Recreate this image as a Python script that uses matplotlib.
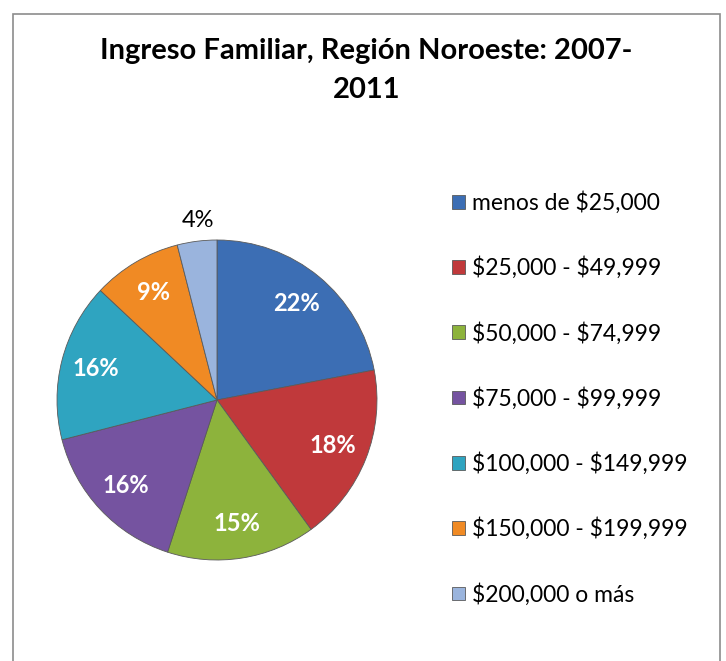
import matplotlib.pyplot as plt
from matplotlib.patches import Rectangle

# data
categorias = ['menos de $25,000', '$25,000 - $49,999', '$50,000 - $74,999',
              '$75,000 - $99,999', '$100,000 - $149,999', '$150,000 - $199,999',
              '$200,000 o más']
porcentajes = [22, 18, 15, 16, 16, 9, 4]
colores = ['#3C6EB4', '#C0393B', '#8DB33C', '#7553A0', '#2FA4C0', '#F08A24', '#9AB4DD']

plt.rcParams['font.family'] = ['Lato', 'DejaVu Sans']
plt.rcParams['text.parse_math'] = False  # keep the $ signs literal

fig = plt.figure(figsize=(7.26, 6.61), dpi=100)

# chart frame
fig.patches.append(Rectangle((13 / 726, -0.01), 707 / 726, 1 - 14 / 661 + 0.01,
                             transform=fig.transFigure, fill=False,
                             edgecolor='#8C8C8C', linewidth=1.2))

ax = fig.add_axes([41 / 726, 85 / 661, 352 / 726, 352 / 661])
wedges, textos, pcts = ax.pie(porcentajes, colors=colores, startangle=90,
                              counterclock=False, radius=1.0,
                              autopct='%d%%', pctdistance=0.78,
                              wedgeprops=dict(edgecolor='#5A5A5A', linewidth=0.6),
                              textprops=dict(color='white', fontsize=17, fontweight='bold'))
ax.set_xlim(-1.1, 1.1)
ax.set_ylim(-1.1, 1.1)

# small slice label sits outside, in black
pcts[-1].set_position((-0.12, 1.12))
pcts[-1].set_color('black')
pcts[-1].set_fontweight('normal')

fig.text(0.505, 0.942, 'Ingreso Familiar, Región Noroeste: 2007-\n2011',
         ha='center', va='top', fontsize=21, fontweight='bold', linespacing=1.62)

fig.legend(wedges, categorias, loc='upper left', bbox_to_anchor=(443 / 726, 1 - 182 / 661),
           frameon=False, fontsize=16.5, handlelength=0.55, handleheight=0.55,
           handletextpad=0.3, labelspacing=1.86, borderaxespad=0)

fig.savefig('out.png', dpi=100)
